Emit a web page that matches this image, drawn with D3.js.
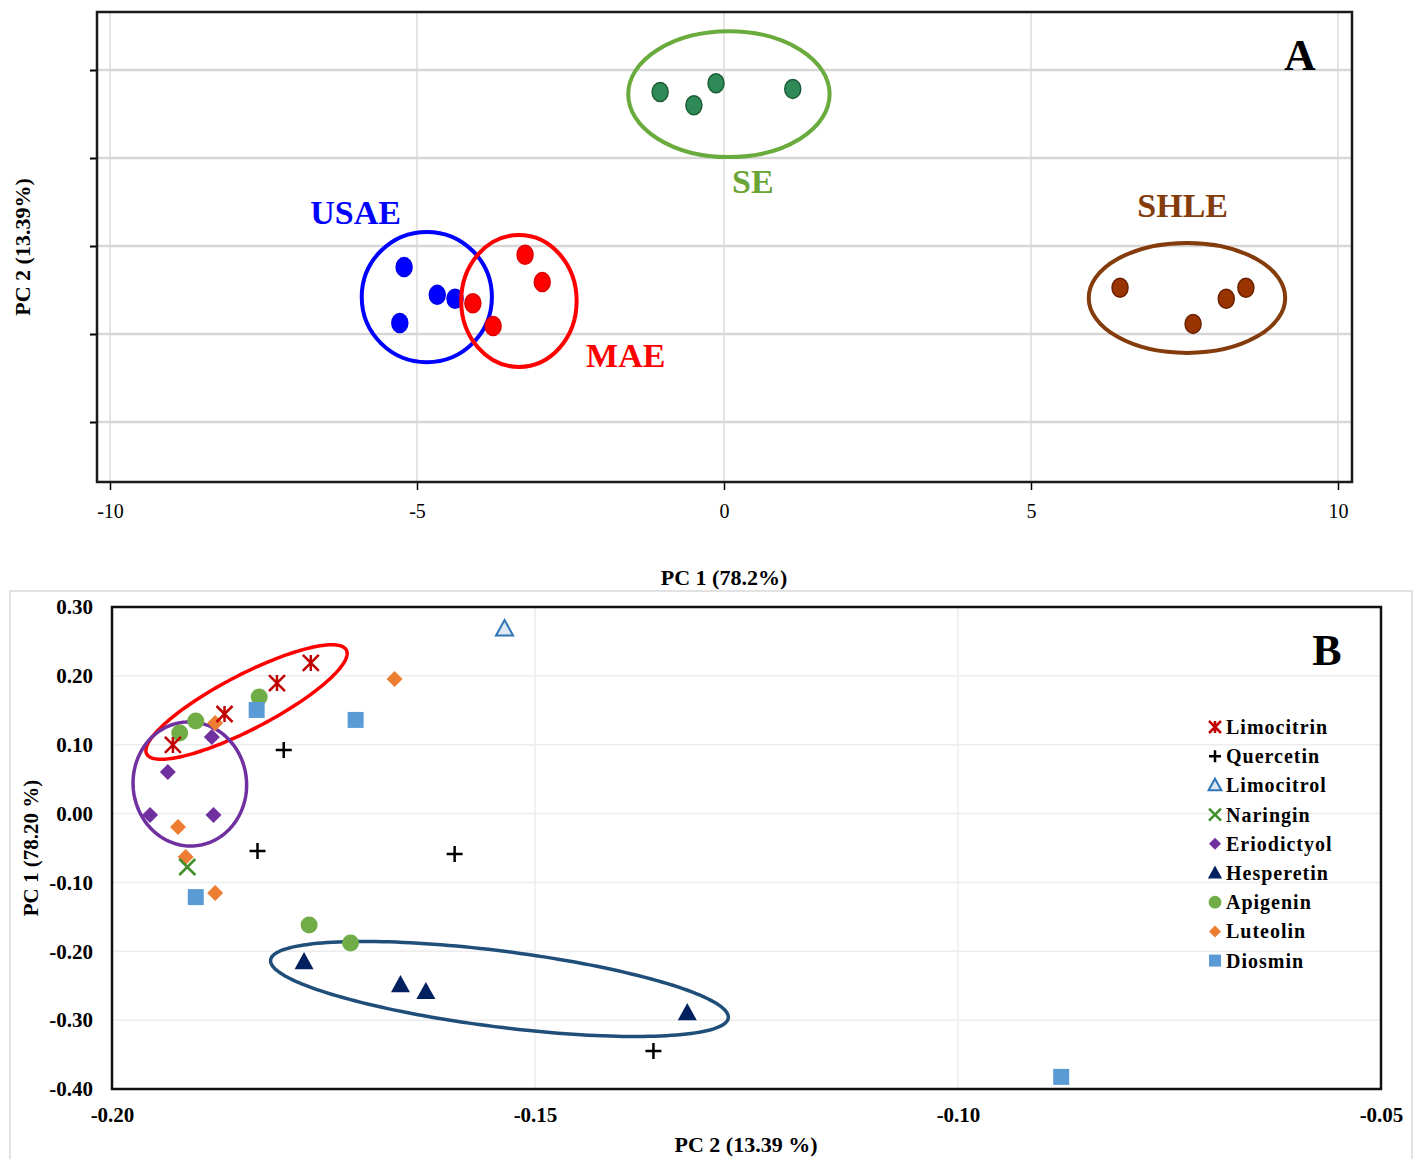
<!DOCTYPE html>
<html>
<head>
<meta charset="utf-8">
<script src="https://cdn.jsdelivr.net/npm/d3@7"></script>
<style>
  body { margin: 0; background: #fff; }
  svg { display: block; font-family: "Liberation Serif", "DejaVu Serif", serif; }
</style>
</head>
<body>
<div id="chart"></div>
<script>
// ---- Panel A: score plot ----
const aXTicks = [-10, -5, 0, 5, 10];
const aYGrid = [-4, -2, 0, 2, 4];
const groupNames = ['SE', 'USAE', 'MAE', 'SHLE'];
const seScores = [[-1.04, 3.50], [-0.49, 3.20], [-0.13, 3.70], [1.12, 3.57]];
const usaeScores = [[-5.21, -0.48], [-4.67, -1.11], [-4.38, -1.20], [-5.28, -1.75]];
const maeScores = [[-4.09, -1.30], [-3.24, -0.20], [-2.96, -0.82], [-3.76, -1.82]];
const shleScores = [[6.45, -0.95], [7.64, -1.77], [8.18, -1.20], [8.50, -0.95]];
// ellipse: centre, radius x, radius y (data units)
const seEllipse = [0.08, 3.45, 1.64, 1.43];
const usaeEllipse = [-4.84, -1.16, 1.06, 1.48];
const maeEllipse = [-3.34, -1.25, 0.94, 1.50];
const shleEllipse = [7.54, -1.18, 1.60, 1.25];
// label anchor positions (data units)
const groupLabelPos = [[0.47, 1.2], [-6.0, 0.5], [-1.6, -2.75], [7.47, 0.66]];

// ---- Panel B: loading plot ----
const bXTicks = [-0.20, -0.15, -0.10, -0.05];
const bYTicks = [0.30, 0.20, 0.10, 0.00, -0.10, -0.20, -0.30, -0.40];
const compounds = ['Limocitrin', 'Quercetin', 'Limocitrol', 'Naringin', 'Eriodictyol', 'Hesperetin', 'Apigenin', 'Luteolin', 'Diosmin'];
const limocitrin = [[-0.1928, 0.0996], [-0.1867, 0.1446], [-0.1805, 0.1896], [-0.1765, 0.2187]];
const quercetin = [[-0.1797, 0.0923], [-0.1828, -0.0543], [-0.1595, -0.0587], [-0.1360, -0.3448]];
const limocitrol = [[-0.1536, 0.2680]];
const naringin = [[-0.1911, -0.0776]];
const eriodictyol = [[-0.1882, 0.1112], [-0.1934, 0.0604], [-0.1955, -0.0021], [-0.1880, -0.0021]];
const hesperetin = [[-0.1773, -0.2155], [-0.1659, -0.2490], [-0.1629, -0.2590], [-0.1320, -0.2896]];
const apigenin = [[-0.1920, 0.1170], [-0.1901, 0.1344], [-0.1826, 0.1693], [-0.1767, -0.1618], [-0.1718, -0.1880]];
const luteolin = [[-0.1666, 0.1954], [-0.1878, 0.1315], [-0.1922, -0.0195], [-0.1913, -0.0631], [-0.1878, -0.1153]];
const diosmin = [[-0.1829, 0.1505], [-0.1712, 0.1360], [-0.1901, -0.1213], [-0.0878, -0.3824]];
// ellipses: centre plus two conjugate semi-axis vectors (data units)
const redEllipse = [-0.1841, 0.162, 0.0118, 0.0755, 0.0015, -0.0349];
const purpleEllipse = [-0.1908, 0.043, 0.0067, 0.004, -0.0004, 0.090];
const navyEllipse = [-0.1542, -0.2547, 0.02705, -0.0421, -0.00057, -0.0547];

const W = 1417, H = 1159;
const svg = d3.select('#chart').append('svg').attr('width', W).attr('height', H);
const hyphen = f => d => f(d).replace('\u2212', '-');

// ================= Panel A =================
const ax = d3.scaleLinear().domain([-10, 10]).range([110, 1338]);
const ay = d3.scaleLinear().domain([-4, 4]).range([422, 70]);
const boxA = { x0: 97, x1: 1352, y0: 12, y1: 482 };

const gA = svg.append('g');
gA.selectAll('line.vg').data(aXTicks).enter().append('line')
  .attr('x1', d => ax(d)).attr('x2', d => ax(d))
  .attr('y1', boxA.y0).attr('y2', boxA.y1)
  .attr('stroke', '#dcdcdc').attr('stroke-width', 1.5);
gA.selectAll('line.hg').data(aYGrid).enter().append('line')
  .attr('x1', boxA.x0).attr('x2', boxA.x1)
  .attr('y1', d => ay(d)).attr('y2', d => ay(d))
  .attr('stroke', '#d6d6d6').attr('stroke-width', 2.5);

// axes
const axisA = gA.append('g').attr('transform', `translate(0,${boxA.y1})`)
  .call(d3.axisBottom(ax).tickValues(aXTicks).tickSize(8).tickPadding(14).tickFormat(hyphen(d3.format('d'))));
axisA.select('.domain').remove();
axisA.selectAll('line').attr('stroke', '#000').attr('stroke-width', 1.5);
axisA.selectAll('text').attr('font-size', 20).attr('fill', '#000')
  .attr('font-family', '"Liberation Serif", serif');

const axisAY = gA.append('g').attr('transform', `translate(${boxA.x0},0)`)
  .call(d3.axisLeft(ay).tickValues(aYGrid).tickSize(7).tickFormat(''));
axisAY.select('.domain').remove();
axisAY.selectAll('line').attr('stroke', '#000').attr('stroke-width', 2);

gA.append('rect').attr('x', boxA.x0).attr('y', boxA.y0)
  .attr('width', boxA.x1 - boxA.x0).attr('height', boxA.y1 - boxA.y0)
  .attr('fill', 'none').attr('stroke', '#1a1a1a').attr('stroke-width', 2.5);

const groupsA = [
  { pts: seScores, ell: seEllipse, fill: '#2e8b57', stroke: '#1d5c39', ring: '#6aab3e', label: '#6aa535' },
  { pts: usaeScores, ell: usaeEllipse, fill: '#0000ff', stroke: '#0000ee', ring: '#0000ff', label: '#0000ff' },
  { pts: maeScores, ell: maeEllipse, fill: '#ff0000', stroke: '#e00000', ring: '#ff0000', label: '#ff0000' },
  { pts: shleScores, ell: shleEllipse, fill: '#993300', stroke: '#6a2200', ring: '#843c0c', label: '#843c0c' }
];

groupsA.forEach((g, i) => {
  const [cx, cy, rx, ry] = g.ell;
  gA.append('ellipse')
    .attr('cx', ax(cx)).attr('cy', ay(cy))
    .attr('rx', ax(cx + rx) - ax(cx)).attr('ry', ay(cy) - ay(cy + ry))
    .attr('fill', 'none').attr('stroke', g.ring).attr('stroke-width', 4);
  gA.selectAll(null).data(g.pts).enter().append('ellipse')
    .attr('cx', d => ax(d[0])).attr('cy', d => ay(d[1]))
    .attr('rx', 8).attr('ry', 9.5)
    .attr('fill', g.fill).attr('stroke', g.stroke).attr('stroke-width', 1.5);
  gA.append('text')
    .attr('x', ax(groupLabelPos[i][0])).attr('y', ay(groupLabelPos[i][1]))
    .attr('text-anchor', 'middle').attr('font-size', 34).attr('font-weight', 'bold')
    .attr('fill', g.label).text(groupNames[i]);
});

gA.append('text').attr('x', 1300).attr('y', 70).attr('text-anchor', 'middle')
  .attr('font-size', 44).attr('font-weight', 'bold').text('A');

gA.append('text')
  .attr('transform', `translate(30,${(boxA.y0 + boxA.y1) / 2}) rotate(-90)`)
  .attr('text-anchor', 'middle').attr('font-size', 22).attr('font-weight', 'bold')
  .text('PC 2 (13.39%)');
gA.append('text').attr('x', 724).attr('y', 585).attr('text-anchor', 'middle')
  .attr('font-size', 22).attr('font-weight', 'bold').text('PC 1 (78.2%)');

// ================= Panel B =================
const bx = d3.scaleLinear().domain([-0.20, -0.05]).range([112, 1381]);
const by = d3.scaleLinear().domain([-0.40, 0.30]).range([1089, 607]);
const gB = svg.append('g');

gB.append('rect').attr('x', 10).attr('y', 591).attr('width', 1402).attr('height', 580)
  .attr('fill', 'none').attr('stroke', '#d9d9d9').attr('stroke-width', 1.5);

gB.selectAll('line.hg').data(bYTicks.slice(1, -1)).enter().append('line')
  .attr('x1', bx(-0.20)).attr('x2', bx(-0.05))
  .attr('y1', d => by(d)).attr('y2', d => by(d))
  .attr('stroke', '#ececec').attr('stroke-width', 1.5);
gB.selectAll('line.vg').data(bXTicks.slice(1, -1)).enter().append('line')
  .attr('x1', d => bx(d)).attr('x2', d => bx(d))
  .attr('y1', by(0.30)).attr('y2', by(-0.40))
  .attr('stroke', '#ececec').attr('stroke-width', 1.5);

const axisBX = gB.append('g').attr('transform', `translate(0,${by(-0.40)})`)
  .call(d3.axisBottom(bx).tickValues(bXTicks).tickSize(0).tickPadding(18).tickFormat(hyphen(d3.format('.2f'))));
axisBX.select('.domain').remove();
axisBX.selectAll('text').attr('font-size', 21).attr('font-weight', 'bold').attr('fill', '#000')
  .attr('font-family', '"Liberation Serif", serif');

const axisBY = gB.append('g').attr('transform', `translate(${bx(-0.20)},0)`)
  .call(d3.axisLeft(by).tickValues(bYTicks).tickSize(0).tickPadding(19).tickFormat(hyphen(d3.format('.2f'))));
axisBY.select('.domain').remove();
axisBY.selectAll('text').attr('font-size', 21).attr('font-weight', 'bold').attr('fill', '#000')
  .attr('font-family', '"Liberation Serif", serif');

gB.append('rect').attr('x', bx(-0.20)).attr('y', by(0.30))
  .attr('width', bx(-0.05) - bx(-0.20)).attr('height', by(-0.40) - by(0.30))
  .attr('fill', 'none').attr('stroke', '#111').attr('stroke-width', 2.5);

// ellipses via d3.line through the scales
const ellLine = d3.line().x(d => bx(d[0])).y(d => by(d[1])).curve(d3.curveLinearClosed);
function ellipsePoints(e) {
  const [cx, cy, ux, uy, vx, vy] = e;
  return d3.range(0, 2 * Math.PI, Math.PI / 90).map(t =>
    [cx + ux * Math.cos(t) + vx * Math.sin(t), cy + uy * Math.cos(t) + vy * Math.sin(t)]);
}
[[redEllipse, '#ff0000'], [purpleEllipse, '#7030a0'], [navyEllipse, '#1f4e79']].forEach(([e, c]) => {
  gB.append('path').attr('d', ellLine(ellipsePoints(e)))
    .attr('fill', 'none').attr('stroke', c).attr('stroke-width', 3.5);
});

// marker shapes
function markerPath(type, s) {
  switch (type) {
    case 'star': return `M${-s},${-s}L${s},${s}M${-s},${s}L${s},${-s}M0,${-s}L0,${s}`;
    case 'plus': return `M${-s},0L${s},0M0,${-s}L0,${s}`;
    case 'x': return `M${-s},${-s}L${s},${s}M${-s},${s}L${s},${-s}`;
    case 'diamond': return `M0,${-s}L${s},0L0,${s}L${-s},0Z`;
    case 'triangle': return `M0,${-s}L${s * 0.95},${s * 0.72}L${-s * 0.95},${s * 0.72}Z`;
    case 'square': return `M${-s},${-s}H${s}V${s}H${-s}Z`;
    case 'circle': return d3.arc()({ innerRadius: 0, outerRadius: s, startAngle: 0, endAngle: 2 * Math.PI });
  }
}
const seriesB = [
  { data: limocitrin, type: 'star', size: 8, color: '#c00000', fill: 'none', sw: 2.5 },
  { data: quercetin, type: 'plus', size: 8, color: '#000', fill: 'none', sw: 2.5 },
  { data: limocitrol, type: 'triangle', size: 9, color: '#2e75b6', fill: '#dde8f5', sw: 2 },
  { data: naringin, type: 'x', size: 8, color: '#3f8f2a', fill: 'none', sw: 2.5 },
  { data: eriodictyol, type: 'diamond', size: 8, color: '#7030a0', fill: '#7030a0', sw: 0 },
  { data: hesperetin, type: 'triangle', size: 10, color: '#002060', fill: '#002060', sw: 0 },
  { data: apigenin, type: 'circle', size: 8.5, color: '#70ad47', fill: '#70ad47', sw: 0 },
  { data: luteolin, type: 'diamond', size: 8, color: '#ed7d31', fill: '#ed7d31', sw: 0 },
  { data: diosmin, type: 'square', size: 8, color: '#5b9bd5', fill: '#5b9bd5', sw: 0 }
];
// draw in an order so the foreground matches
const drawOrder = [6, 7, 8, 4, 0, 1, 2, 3, 5];
drawOrder.forEach(i => {
  const s = seriesB[i];
  gB.selectAll(null).data(s.data).enter().append('path')
    .attr('transform', d => `translate(${bx(d[0])},${by(d[1])})`)
    .attr('d', markerPath(s.type, s.size))
    .attr('fill', s.fill).attr('stroke', s.sw ? s.color : 'none').attr('stroke-width', s.sw);
});

// legend
const legend = gB.append('g').attr('transform', 'translate(1215,727)');
seriesB.forEach((s, i) => {
  const row = legend.append('g').attr('transform', `translate(0,${i * 29.2})`);
  row.append('path').attr('d', markerPath(s.type, s.size * 0.75))
    .attr('fill', s.fill).attr('stroke', s.sw ? s.color : 'none').attr('stroke-width', s.sw);
  row.append('text').attr('x', 11).attr('y', 7).attr('font-size', 20).attr('font-weight', 'bold')
    .attr('letter-spacing', 1).text(compounds[i]);
});

gB.append('text').attr('x', 1327).attr('y', 665).attr('text-anchor', 'middle')
  .attr('font-size', 44).attr('font-weight', 'bold').text('B');

gB.append('text')
  .attr('transform', `translate(38,${(by(0.30) + by(-0.40)) / 2}) rotate(-90)`)
  .attr('text-anchor', 'middle').attr('font-size', 21).attr('font-weight', 'bold')
  .text('PC 1 (78.20 %)');
gB.append('text').attr('x', 746).attr('y', 1152).attr('text-anchor', 'middle')
  .attr('font-size', 22).attr('font-weight', 'bold').text('PC 2 (13.39 %)');
</script>
</body>
</html>
